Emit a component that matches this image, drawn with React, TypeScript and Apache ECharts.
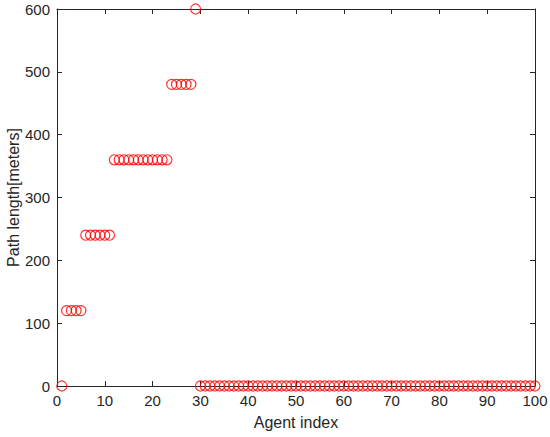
import React, { useEffect, useRef } from "react";
import * as echarts from "echarts";

const agentIndex: number[] = Array.from({ length: 100 }, (_, i) => i + 1);
const pathLength: number[] = [
  0, 120, 120, 120, 120, 240, 240, 240, 240, 240, 240,
  360, 360, 360, 360, 360, 360, 360, 360, 360, 360, 360, 360,
  480, 480, 480, 480, 480, 600,
  0, 0, 0, 0, 0, 0, 0, 0, 0, 0, 0, 0, 0, 0, 0, 0, 0, 0, 0, 0, 0,
  0, 0, 0, 0, 0, 0, 0, 0, 0, 0, 0, 0, 0, 0, 0, 0, 0, 0, 0, 0, 0,
  0, 0, 0, 0, 0, 0, 0, 0, 0, 0, 0, 0, 0, 0, 0, 0, 0, 0, 0, 0, 0,
  0, 0, 0, 0, 0, 0, 0, 0, 0, 0, 0,
];
const xName = "Agent index";
const yName = "Path length[meters]";

const FONT = "'Liberation Sans', Arial, Helvetica, sans-serif";
const AX = "#262626";

export default function App() {
  const ref = useRef<HTMLDivElement>(null);
  useEffect(() => {
    document.body.style.margin = "0";
    if (!ref.current) return;
    const chart = echarts.init(ref.current, undefined, { renderer: "svg" });
    const axisCommon = {
      axisLine: { show: true, onZero: false, lineStyle: { color: AX, width: 1 } },
      axisTick: { show: true, inside: true, length: 5, lineStyle: { color: AX, width: 1 } },
      splitLine: { show: false },
    };
    chart.setOption({
      animation: false,
      backgroundColor: "#ffffff",
      grid: { left: 57, right: 15, top: 9, bottom: 51, containLabel: false, outerBoundsMode: "none" },
      xAxis: [
        {
          type: "value", min: 0, max: 100, interval: 10, position: "bottom",
          name: xName, nameLocation: "middle", nameGap: 28, nameMoveOverlap: false,
          nameTextStyle: { fontFamily: FONT, fontSize: 16, color: AX },
          axisLabel: { fontFamily: FONT, fontSize: 15, color: AX, margin: 7 },
          ...axisCommon,
        },
        {
          type: "value", min: 0, max: 100, interval: 10, position: "top",
          axisLabel: { show: false }, ...axisCommon,
        },
      ],
      yAxis: [
        {
          type: "value", min: 0, max: 600, interval: 100, position: "left",
          name: yName, nameLocation: "middle", nameGap: 36, nameMoveOverlap: false,
          nameTextStyle: { fontFamily: FONT, fontSize: 16, color: AX, lineHeight: 16 },
          axisLabel: { fontFamily: FONT, fontSize: 15, color: AX, margin: 7 },
          ...axisCommon,
        },
        {
          type: "value", min: 0, max: 600, interval: 100, position: "right",
          axisLabel: { show: false }, ...axisCommon,
        },
      ],
      series: [
        {
          type: "scatter",
          clip: false,
          symbol: "circle",
          symbolSize: 10,
          itemStyle: { color: "rgba(0,0,0,0)", borderColor: "#ff0000", borderWidth: 1.2 },
          data: agentIndex.map((a, i) => [a, pathLength[i]]),
        },
      ],
    });
    return () => chart.dispose();
  }, []);
  return <div ref={ref} style={{ width: 550, height: 437 }} />;
}
